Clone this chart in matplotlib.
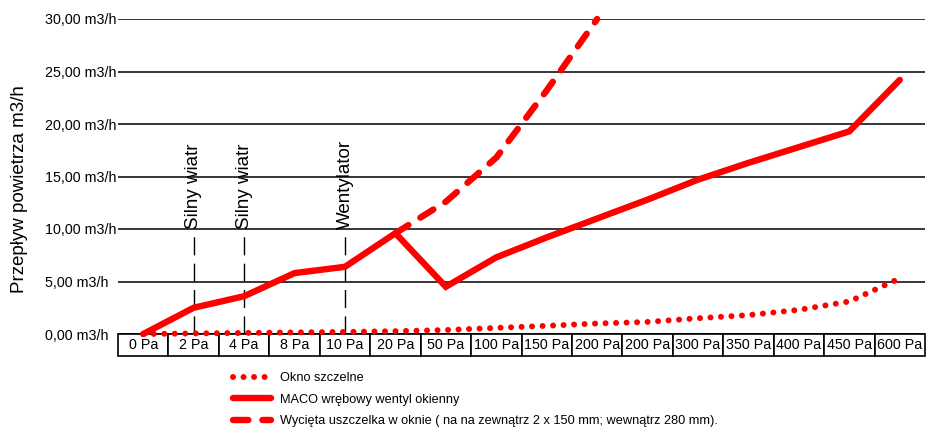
import matplotlib.pyplot as plt
from matplotlib.lines import Line2D
import numpy as np

plt.rcParams['font.family'] = ['Liberation Sans', 'DejaVu Sans']

# categories along the x axis (pressure)
categories = ["0 Pa", "2 Pa", "4 Pa", "8 Pa", "10 Pa", "20 Pa", "50 Pa", "100 Pa",
              "150 Pa", "200 Pa", "200 Pa", "300 Pa", "350 Pa", "400 Pa", "450 Pa", "600 Pa"]

# airflow values in m3/h
okno_szczelne = [0.0, 0.05, 0.1, 0.15, 0.2, 0.27, 0.38, 0.58, 0.78, 1.0,
                 1.15, 1.5, 1.8, 2.3, 3.1, 5.3]
maco_wentyl = [0.0, 2.5, 3.6, 5.8, 6.4, 9.6, 4.5, 7.3, 9.2, 11.0,
               12.8, 14.7, 16.3, 17.8, 19.3, 24.2]
wycieta_uszczelka = [np.nan, np.nan, np.nan, np.nan, np.nan, 9.6, 12.6, 16.8, 23.2, 30.0,
                     np.nan, np.nan, np.nan, np.nan, np.nan, np.nan]

# marker lines (category index, label)
markers = [(1, "Silny wiatr"), (2, "Silny wiatr"), (4, "Wentylator")]
marker_top = 10

yticks = [0, 5, 10, 15, 20, 25, 30]
ytick_labels = [f"{v:.2f}".replace(".", ",") + " m3/h" for v in yticks]

legend_labels = ["Okno szczelne",
                 "MACO wrębowy wentyl okienny",
                 "Wycięta uszczelka w oknie ( na na zewnątrz 2 x 150 mm; wewnątrz 280 mm)."]

RED = "#ff0000"

fig = plt.figure(figsize=(9.33, 4.28), dpi=100)
ax = fig.add_axes([118 / 933, 94 / 428, 807 / 933, 315 / 428])

x = np.arange(len(categories))

for v in yticks:
    ax.axhline(v, color="black", linewidth=1.1, zorder=1)

for idx, label in markers:
    ax.plot([idx, idx], [0, marker_top], color="black", linewidth=1.0,
            linestyle=(0, (13, 6)), zorder=2)
    ax.text(idx, marker_top, label, rotation=90, ha="center", va="bottom", fontsize=13.5)

dotted_style = dict(color=RED, linewidth=4.3, linestyle=(0, (0.01, 1.75)),
                    dash_capstyle="round", solid_capstyle="round")
solid_style = dict(color=RED, linewidth=4.6, solid_capstyle="round", solid_joinstyle="miter")
dashed_style = dict(color=RED, linewidth=4.6, linestyle=(0, (2.4, 2.2)),
                    dash_capstyle="round")

ax.plot(x, okno_szczelne, clip_on=False, zorder=4, **dotted_style)
ax.plot(x, maco_wentyl, clip_on=False, zorder=4, **solid_style)
ax.plot(x, wycieta_uszczelka, clip_on=False, zorder=4, **dashed_style)

ax.set_xlim(-0.5, len(categories) - 0.5)
ax.set_ylim(0, 30)
ax.set_xticks([])
ax.set_yticks(yticks)
ax.set_yticklabels(ytick_labels, ha="left", fontsize=10.3)
ax.tick_params(axis="y", length=0, pad=52.5)
for s in ax.spines.values():
    s.set_visible(False)

# category row as a table under the plot
h = 22 / 315
tbl = ax.table(cellText=[categories], cellLoc="center", bbox=[0, -h, 1, h])
tbl.auto_set_font_size(False)
tbl.set_fontsize(10.3)
for cell in tbl.get_celld().values():
    cell.set_linewidth(1.2)
    cell.set_edgecolor("black")
    cell.PAD = 0.02

fig.text(20 / 933, 1 - 189 / 428, "Przepływ powietrza m3/h", rotation=90,
         ha="center", va="center", fontsize=13.5)

handles = [Line2D([], [], **dotted_style),
           Line2D([], [], **solid_style),
           Line2D([], [], **dashed_style)]
fig.legend(handles, legend_labels, loc="upper left",
           bbox_to_anchor=(233 / 933, 1 - 372 / 428), frameon=False,
           fontsize=9.2, handlelength=3.0, handletextpad=0.7,
           labelspacing=0.75, borderpad=0, borderaxespad=0)

fig.savefig("out.png", dpi=100)
